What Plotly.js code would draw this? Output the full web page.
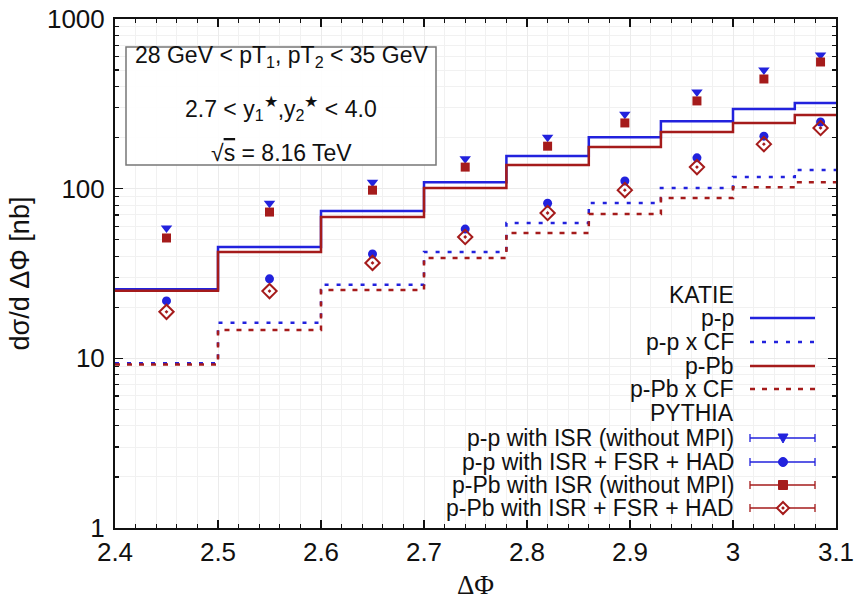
<!DOCTYPE html>
<html>
<head>
<meta charset="utf-8">
<script src="https://cdn.plot.ly/plotly-3.0.1.min.js"></script>
<style>html,body{margin:0;padding:0;background:#fff;}#chart{width:864px;height:601px;}</style>
</head>
<body>
<div id="chart"></div>
<script>
// ---- data ----
const binEdges = [2.4, 2.5, 2.6, 2.7, 2.78, 2.86, 2.93, 3.0, 3.06, 3.1];
const binCenters = [2.45, 2.55, 2.65, 2.74, 2.82, 2.895, 2.965, 3.03, 3.085];

const katiePP     = [25.5, 45.3, 73.8, 109, 156, 201, 250, 295, 320];
const katiePPCF   = [9.35, 16.2, 27.1, 42.4, 62.8, 82.3, 101, 117, 129];
const katiePPb    = [25.0, 42.4, 68, 101, 138, 176, 216, 244, 272];
const katiePPbCF  = [9.2, 14.7, 25.3, 39, 54.8, 70.8, 88, 102, 109];

const pythiaPPISR   = [58.7, 82, 109, 150, 201, 275, 371, 500, 613];
const pythiaPPFull  = [21.8, 29.4, 41.2, 57.8, 82, 111, 152, 204, 247];
const pythiaPPbISR  = [51.2, 72.8, 98, 134, 178, 244, 329, 443, 558];
const pythiaPPbFull = [18.8, 24.9, 36.5, 51.9, 71.9, 98, 134, 183, 228];

const xTickVals = [2.4, 2.5, 2.6, 2.7, 2.8, 2.9, 3.0, 3.1];
const xTickText = ['2.4', '2.5', '2.6', '2.7', '2.8', '2.9', '3', '3.1'];
const yTickVals = [1, 10, 100, 1000];
const yTickText = ['1', '10', '100', '1000'];

const legendLabels = ['KATIE', 'p-p', 'p-p x CF', 'p-Pb', 'p-Pb x CF', 'PYTHIA',
  'p-p with ISR (without MPI)', 'p-p with ISR + FSR + HAD',
  'p-Pb with ISR (without MPI)', 'p-Pb with ISR + FSR + HAD'];

// ---- styles ----
const BLUE = '#2222dd';
const RED = '#a51b1b';
const FONT = 'Liberation Sans, Arial, Helvetica, sans-serif';

function stepY(vals) { return vals.concat([vals[vals.length - 1]]); }

const traces = [
  {x: binEdges, y: stepY(katiePP), mode: 'lines', line: {shape: 'hv', color: BLUE, width: 2.5}},
  {x: binEdges, y: stepY(katiePPCF), mode: 'lines', line: {shape: 'hv', color: BLUE, width: 2.5, dash: '4px,8px'}},
  {x: binEdges, y: stepY(katiePPb), mode: 'lines', line: {shape: 'hv', color: RED, width: 2.5}},
  {x: binEdges, y: stepY(katiePPbCF), mode: 'lines', line: {shape: 'hv', color: RED, width: 2.5, dash: '5px,7px'}},
  {x: binCenters, y: pythiaPPISR, mode: 'markers', marker: {symbol: 'triangle-down', size: 10, color: BLUE}},
  {x: binCenters, y: pythiaPPFull, mode: 'markers', marker: {symbol: 'circle', size: 9, color: BLUE}},
  {x: binCenters, y: pythiaPPbISR, mode: 'markers', marker: {symbol: 'square', size: 9, color: RED}},
  {x: binCenters, y: pythiaPPbFull, mode: 'markers', marker: {symbol: 'diamond-open-dot', size: 11, color: RED, line: {width: 2, color: RED}}}
].map(t => Object.assign(t, {showlegend: false, hoverinfo: 'x+y'}));

// pixel -> paper helpers (plot area 115..836 x 19..528)
const L = 115, R = 836, T = 19, B = 528;
const px = v => (v - L) / (R - L);
const py = v => (B - v) / (B - T);

const shapes = [];
const annotations = [];

// info box
shapes.push({type: 'rect', xref: 'paper', yref: 'paper', x0: px(126), x1: px(436), y0: py(165), y1: py(47),
  line: {color: '#777', width: 1.5}, fillcolor: 'rgba(255,255,255,0.9)', layer: 'above'});
const boxLines = [
  {t: '28 GeV &lt; pT<sub>1</sub>, pT<sub>2</sub> &lt; 35 GeV', y: 57},
  {t: '2.7 &lt; y<sub>1</sub><sup>★</sup>,y<sub>2</sub><sup>★</sup> &lt; 4.0', y: 108},
  {t: '√<span style="text-decoration:overline">s</span> = 8.16 TeV', y: 153}
];
boxLines.forEach(b => annotations.push({xref: 'paper', yref: 'paper', x: px(281), y: py(b.y), text: b.t,
  showarrow: false, xanchor: 'center', yanchor: 'middle', font: {family: FONT, size: 23, color: '#111'}}));

// x-axis title placed below the tick labels
annotations.push({xref: 'paper', yref: 'paper', x: 0.5, y: py(601), text: 'ΔΦ', showarrow: false, borderpad: 0,
  xanchor: 'center', yanchor: 'bottom', font: {family: 'Liberation Serif, Times New Roman, serif', size: 27, color: '#111'}});

// custom legend
const rowY = [295, 318, 342, 366, 389, 413, 438, 462, 485, 508];
legendLabels.forEach((lab, i) => annotations.push({xref: 'paper', yref: 'paper', x: px(736), y: py(rowY[i]),
  text: lab, showarrow: false, xanchor: 'right', yanchor: 'middle', font: {family: FONT, size: 23, color: '#111'}}));

const sx0 = 750, sx1 = 815, sxm = 783;
function legLine(row, color, dash, width) {
  shapes.push({type: 'line', xref: 'paper', yref: 'paper', x0: px(sx0), x1: px(sx1), y0: py(rowY[row]), y1: py(rowY[row]),
    line: {color: color, width: width, dash: dash}});
}
legLine(1, BLUE, 'solid', 2.5);
legLine(2, BLUE, '4px,8px', 2.5);
legLine(3, RED, 'solid', 2.5);
legLine(4, RED, '5px,7px', 2.5);
function errBar(row, color) {
  const y = rowY[row];
  legLine(row, color, 'solid', 1.3);
  [sx0, sx1].forEach(xx => shapes.push({type: 'line', xref: 'paper', yref: 'paper', x0: px(xx), x1: px(xx),
    y0: py(y - 4), y1: py(y + 4), line: {color: color, width: 1.3}}));
}
[6, 7].forEach(r => errBar(r, BLUE));
[8, 9].forEach(r => errBar(r, RED));
// legend markers
(function () {
  let y = rowY[6];
  shapes.push({type: 'path', xref: 'paper', yref: 'paper',
    path: `M${px(sxm - 5)},${py(y - 4)} L${px(sxm + 5)},${py(y - 4)} L${px(sxm)},${py(y + 5)} Z`,
    fillcolor: BLUE, line: {color: BLUE, width: 1}});
  y = rowY[7];
  shapes.push({type: 'circle', xref: 'paper', yref: 'paper', x0: px(sxm - 4.5), x1: px(sxm + 4.5), y0: py(y + 4.5), y1: py(y - 4.5),
    fillcolor: BLUE, line: {color: BLUE, width: 1}});
  y = rowY[8];
  shapes.push({type: 'rect', xref: 'paper', yref: 'paper', x0: px(sxm - 4.5), x1: px(sxm + 4.5), y0: py(y + 4.5), y1: py(y - 4.5),
    fillcolor: RED, line: {color: RED, width: 1}});
  y = rowY[9];
  shapes.push({type: 'path', xref: 'paper', yref: 'paper',
    path: `M${px(sxm)},${py(y - 6)} L${px(sxm + 6)},${py(y)} L${px(sxm)},${py(y + 6)} L${px(sxm - 6)},${py(y)} Z`,
    fillcolor: '#fff', line: {color: RED, width: 2}});
  shapes.push({type: 'circle', xref: 'paper', yref: 'paper', x0: px(sxm - 1.3), x1: px(sxm + 1.3), y0: py(y + 1.3), y1: py(y - 1.3),
    fillcolor: RED, line: {color: RED, width: 0.5}});
})();

const layout = {
  width: 864, height: 601,
  margin: {l: L, r: 864 - R, t: T, b: 601 - B},
  paper_bgcolor: '#fff', plot_bgcolor: '#fff',
  showlegend: false,
  font: {family: FONT, color: '#111'},
  xaxis: {
    range: [2.4, 3.1], tickvals: xTickVals, ticktext: xTickText,
    ticks: 'inside', ticklen: 8, tickwidth: 1.5, tickcolor: '#111',
    showline: true, linewidth: 2, linecolor: '#111', mirror: 'allticks',
    showgrid: true, gridcolor: '#ebebeb', gridwidth: 1,
    minor: {dtick: 0.02, ticks: 'inside', ticklen: 4, tickwidth: 1.2, tickcolor: '#111', showgrid: true, gridcolor: '#f1f1f1'},
    tickfont: {family: FONT, size: 26, color: '#111'},
    ticklabelstandoff: 0,
    zeroline: false, automargin: false
  },
  yaxis: {
    type: 'log', range: [0, 3], tickvals: yTickVals, ticktext: yTickText,
    ticks: 'inside', ticklen: 8, tickwidth: 1.5, tickcolor: '#111',
    showline: true, linewidth: 2, linecolor: '#111', mirror: 'allticks',
    showgrid: true, gridcolor: '#ebebeb', gridwidth: 1,
    minor: {dtick: 'D1', ticks: 'inside', ticklen: 4, tickwidth: 1.2, tickcolor: '#111', showgrid: true, gridcolor: '#f1f1f1'},
    tickfont: {family: FONT, size: 26, color: '#111'},
    ticklabelstandoff: 3,
    zeroline: false, automargin: false,
    title: {text: 'dσ/d ΔΦ [nb]', font: {family: FONT, size: 27, color: '#111'}, standoff: 10}
  },
  shapes: shapes,
  annotations: annotations
};

Plotly.newPlot('chart', traces, layout, {staticPlot: true, displayModeBar: false});
</script>
</body>
</html>
